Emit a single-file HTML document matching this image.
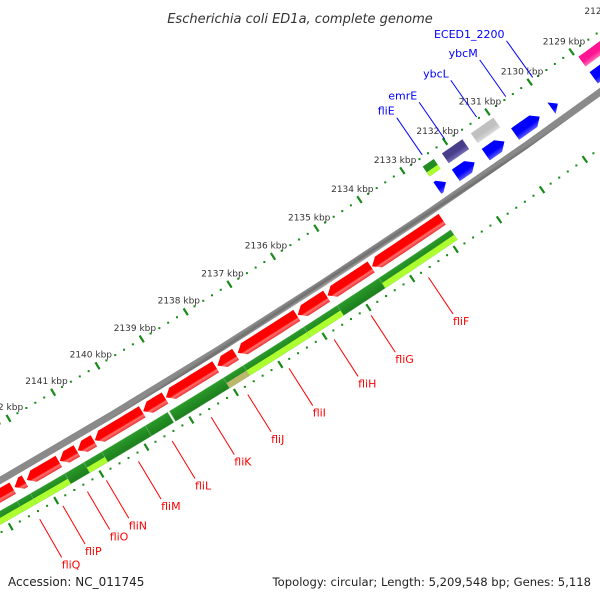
<!DOCTYPE html>
<html><head><meta charset="utf-8"><style>
html,body{margin:0;padding:0;background:#fff;}
svg{display:block;}
text{font-family:"DejaVu Sans","Liberation Sans",sans-serif;}
</style></head><body>
<svg id="map" width="600" height="600" viewBox="0 0 600 600" xmlns="http://www.w3.org/2000/svg">
<defs id="defs"></defs>
<rect x="0" y="0" width="600" height="600" fill="#fff"/>
<g id="layer"></g>
<text x="300" y="23" text-anchor="middle" font-size="13" font-style="italic" fill="#333">Escherichia coli ED1a, complete genome</text>
<text x="8" y="586" font-size="12" fill="#222">Accession: NC_011745</text>
<text x="591" y="586" text-anchor="end" font-size="11.6" fill="#222">Topology: circular; Length: 5,209,548 bp; Genes: 5,118</text>
</svg>
<script>
// ---- data ----
const tickStart = 2126;
const tickEnd = 2145;
const revStart = [2132.89,2134.53,2135.55,2136.23,2137.62,2138.07,2139.21,2139.72,2140.80,2141.18,2141.58,2142.33,2142.60];
const revEnd   = [2134.51,2135.53,2136.21,2137.57,2138.03,2139.19,2139.70,2140.78,2141.16,2141.56,2142.29,2142.56,2143.60];
const greenStart = [2132.87,2134.53,2135.48,2136.24,2137.61,2138.06,2139.31,2139.81,2140.78,2141.18,2141.60,2142.36,2142.65];
const greenEnd   = [2134.53,2135.48,2136.24,2137.61,2138.06,2139.27,2139.81,2140.78,2141.18,2141.60,2142.36,2142.65,2143.60];
const greenTone  = ["light","dark","light","light","khaki","dark","dark","dark","light","dark","light","light","light"];
const fwdUpperStart = [2128.30,2130.97,2131.70,2132.37];
const fwdUpperEnd   = [2128.95,2131.50,2132.18,2132.63];
const fwdUpperColor = ["#ff1493","#c0c0c0","#483d8b","#228b22"];
const fwdLowerStart = [2128.55,2129.80,2130.23,2131.06,2131.76,2132.43];
const fwdLowerEnd   = [2128.95,2129.95,2130.81,2131.50,2132.20,2132.63];
const revLabelNames = ["fliF","fliG","fliH","fliI","fliJ","fliK","fliL","fliM","fliN","fliO","fliP","fliQ"];
const revLabelKbp   = [2133.73,2135.04,2135.88,2136.90,2137.83,2138.65,2139.52,2140.27,2140.98,2141.40,2141.94,2142.45];
const fwdLabelNames = ["ECED1_2200","ybcM","ybcL","emrE","fliE"];
const fwdLabelKbp   = [2129.90,2130.54,2131.23,2131.98,2132.51];

// ---- geometry ----
const CX=-3289, CY=-5263, A0=55.81, DEG=0.451, K0=2133;
const R_TICK=6569, R_LBL=6556, R_UP1=6577, R_UP2=6589, R_LO1=6596, R_LO2=6610;
const R_BB1=6615, R_BB2=6622, R_RED1=6625, R_RED2=6638, R_G1=6645, R_G2=6657, R_IN=6664;
const NS="http://www.w3.org/2000/svg";
const layer=document.getElementById('layer');
const defs=document.getElementById('defs');
let gid=0;
function ang(k){return (A0+(k-K0)*DEG)*Math.PI/180;}
function pt(k,r){const a=ang(k);return [CX+r*Math.cos(a),CY+r*Math.sin(a)];}
function mk(tag,attrs){const e=document.createElementNS(NS,tag);for(const k in attrs)e.setAttribute(k,attrs[k]);return e;}
function grad(k,r1,r2,stops){
  const id='g'+(gid++);const p1=pt(k,r1),p2=pt(k,r2);
  const g=mk('linearGradient',{id:id,gradientUnits:'userSpaceOnUse',x1:p1[0],y1:p1[1],x2:p2[0],y2:p2[1]});
  stops.forEach(s=>g.appendChild(mk('stop',{offset:s[0],'stop-color':s[1]})));
  defs.appendChild(g);return 'url(#'+id+')';
}
function bandPts(k1,k2,r1,r2,head,h){
  h=Math.min(h,(k2-k1));
  const pts=[];const N=8;const rm=(r1+r2)/2;
  let a=k1,b=k2;
  if(head==='hi')b=k2-h; if(head==='lo')a=k1+h;
  if(head==='lo')pts.push(pt(k1,rm));
  for(let i=0;i<=N;i++)pts.push(pt(a+(b-a)*i/N,r1));
  if(head==='hi')pts.push(pt(k2,rm));
  for(let i=N;i>=0;i--)pts.push(pt(a+(b-a)*i/N,r2));
  return pts.map(p=>p[0].toFixed(2)+','+p[1].toFixed(2)).join(' ');
}
function shade(c){
  const m={"#ff0000":"#ff6a6a","#0000ff":"#5a5aff","#c0c0c0":"#dcdcdc","#483d8b":"#7a70b8","#228b22":"#5cb85c","#ff1493":"#ff70b8","#adff2f":"#d4ff80"};
  return m[c]||c;
}

// backbone
(function(){
  const p=mk('polygon',{points:bandPts(tickStart,tickEnd,R_BB1,R_BB2,null,0),
    fill:grad(2135,R_BB1,R_BB2,[[0,'#8a8a8a'],[0.5,'#6e6e6e'],[1,'#b0b0b0']])});
  
  
  layer.appendChild(p);
})();

// tick rings
function ring(R,name,labels){
  const g=mk('g',{});
  
  
  for(let i=0;i<=(tickEnd-tickStart)*5;i++){
    const k=tickStart+i/5;
    if(i%5===0){
      const a=pt(k,R-4),b=pt(k,R+4);
      const l=mk('line',{x1:a[0],y1:a[1],x2:b[0],y2:b[1],stroke:'#178a17','stroke-width':2.2});
      
      
      g.appendChild(l);
      if(labels){
        const q=pt(k,R_LBL);
        const t=mk('text',{x:q[0].toFixed(1),y:(q[1]+3).toFixed(1),'text-anchor':'middle','font-size':9,fill:'#333'});
        t.textContent=Math.round(k)+' kbp';
        
        
        g.appendChild(t);
      }
    }else{
      const a=pt(k,R);
      const d=mk('rect',{x:a[0]-1,y:a[1]-1,width:2,height:2,fill:'#178a17'});
      
      
      g.appendChild(d);
    }
  }
  layer.appendChild(g);
}
ring(R_TICK,'outer-tick-ring',true);
ring(R_IN,'inner-tick-ring',false);

// reverse strand genes (red)
revStart.forEach((s,i)=>{
  const e=revEnd[i];
  const p=mk('polygon',{points:bandPts(s,e,R_RED1,R_RED2,'hi',0.15),
    fill:grad((s+e)/2,R_RED1,R_RED2,[[0,'#ff0000'],[0.62,'#ff0000'],[0.75,'#ff7070'],[1,'#ee3030']])});
  
  
  layer.appendChild(p);
});

// green hit band
greenStart.forEach((s,i)=>{
  const e=greenEnd[i];
  const p=mk('polygon',{points:bandPts(s,e,R_G1,R_G2,null,0),
    fill:grad((s+e)/2,R_G1,R_G2,[[0,'#2a9a2a'],[0.5,'#228b22'],[1,'#1e7e1e']]),stroke:'#7fc07f','stroke-width':0.4});
  
  
  layer.appendChild(p);
  if(greenTone[i]!=='dark'){
    const c=greenTone[i]==='light'?'#adff2f':'#bdb76b';
    const q=mk('polygon',{points:bandPts(s,e,(R_G1+R_G2)/2,R_G2,null,0),fill:c});
    
    
    layer.appendChild(q);
  }
});

// forward strand upper row
fwdUpperStart.forEach((s,i)=>{
  const e=fwdUpperEnd[i];const c=fwdUpperColor[i];
  const p=mk('polygon',{points:bandPts(s,e,R_UP1,R_UP2,null,0),
    fill:grad((s+e)/2,R_UP1,R_UP2,[[0,c],[0.55,c],[1,shade(c)]])});
  
  
  layer.appendChild(p);
  if(c==='#228b22'){
    const q=mk('polygon',{points:bandPts(s,e,(R_UP1+R_UP2)/2+1,R_UP2,null,0),fill:'#adff2f'});
    
    
    layer.appendChild(q);
  }
});
// forward strand lower row (blue arrows)
fwdLowerStart.forEach((s,i)=>{
  const e=fwdLowerEnd[i];
  const p=mk('polygon',{points:bandPts(s,e,R_LO1,R_LO2,'lo',0.15),
    fill:grad((s+e)/2,R_LO1,R_LO2,[[0,'#0000ff'],[0.6,'#0000ff'],[1,'#5a5aff']])});
  
  
  layer.appendChild(p);
});

// gene labels
revLabelNames.forEach((n,i)=>{
  const a=pt(revLabelKbp[i],6672),b=pt(revLabelKbp[i],6716);
  const l=mk('line',{x1:a[0],y1:a[1],x2:b[0],y2:b[1],stroke:'#ff0000','stroke-width':1});
  
  
  layer.appendChild(l);
  const t=mk('text',{x:b[0].toFixed(1),y:(b[1]+11).toFixed(1),'font-size':11,fill:'#ff0000'});
  t.textContent=n;
  
  
  layer.appendChild(t);
});
fwdLabelNames.forEach((n,i)=>{
  const a=pt(fwdLabelKbp[i],6567),b=pt(fwdLabelKbp[i],6522);
  const l=mk('line',{x1:a[0],y1:a[1],x2:b[0],y2:b[1],stroke:'#0000ff','stroke-width':1});
  
  
  layer.appendChild(l);
  const t=mk('text',{x:(b[0]-2).toFixed(1),y:(b[1]-3).toFixed(1),'text-anchor':'end','font-size':11,fill:'#0000ff'});
  t.textContent=n;
  
  
  layer.appendChild(t);
});
</script>
</body></html>
